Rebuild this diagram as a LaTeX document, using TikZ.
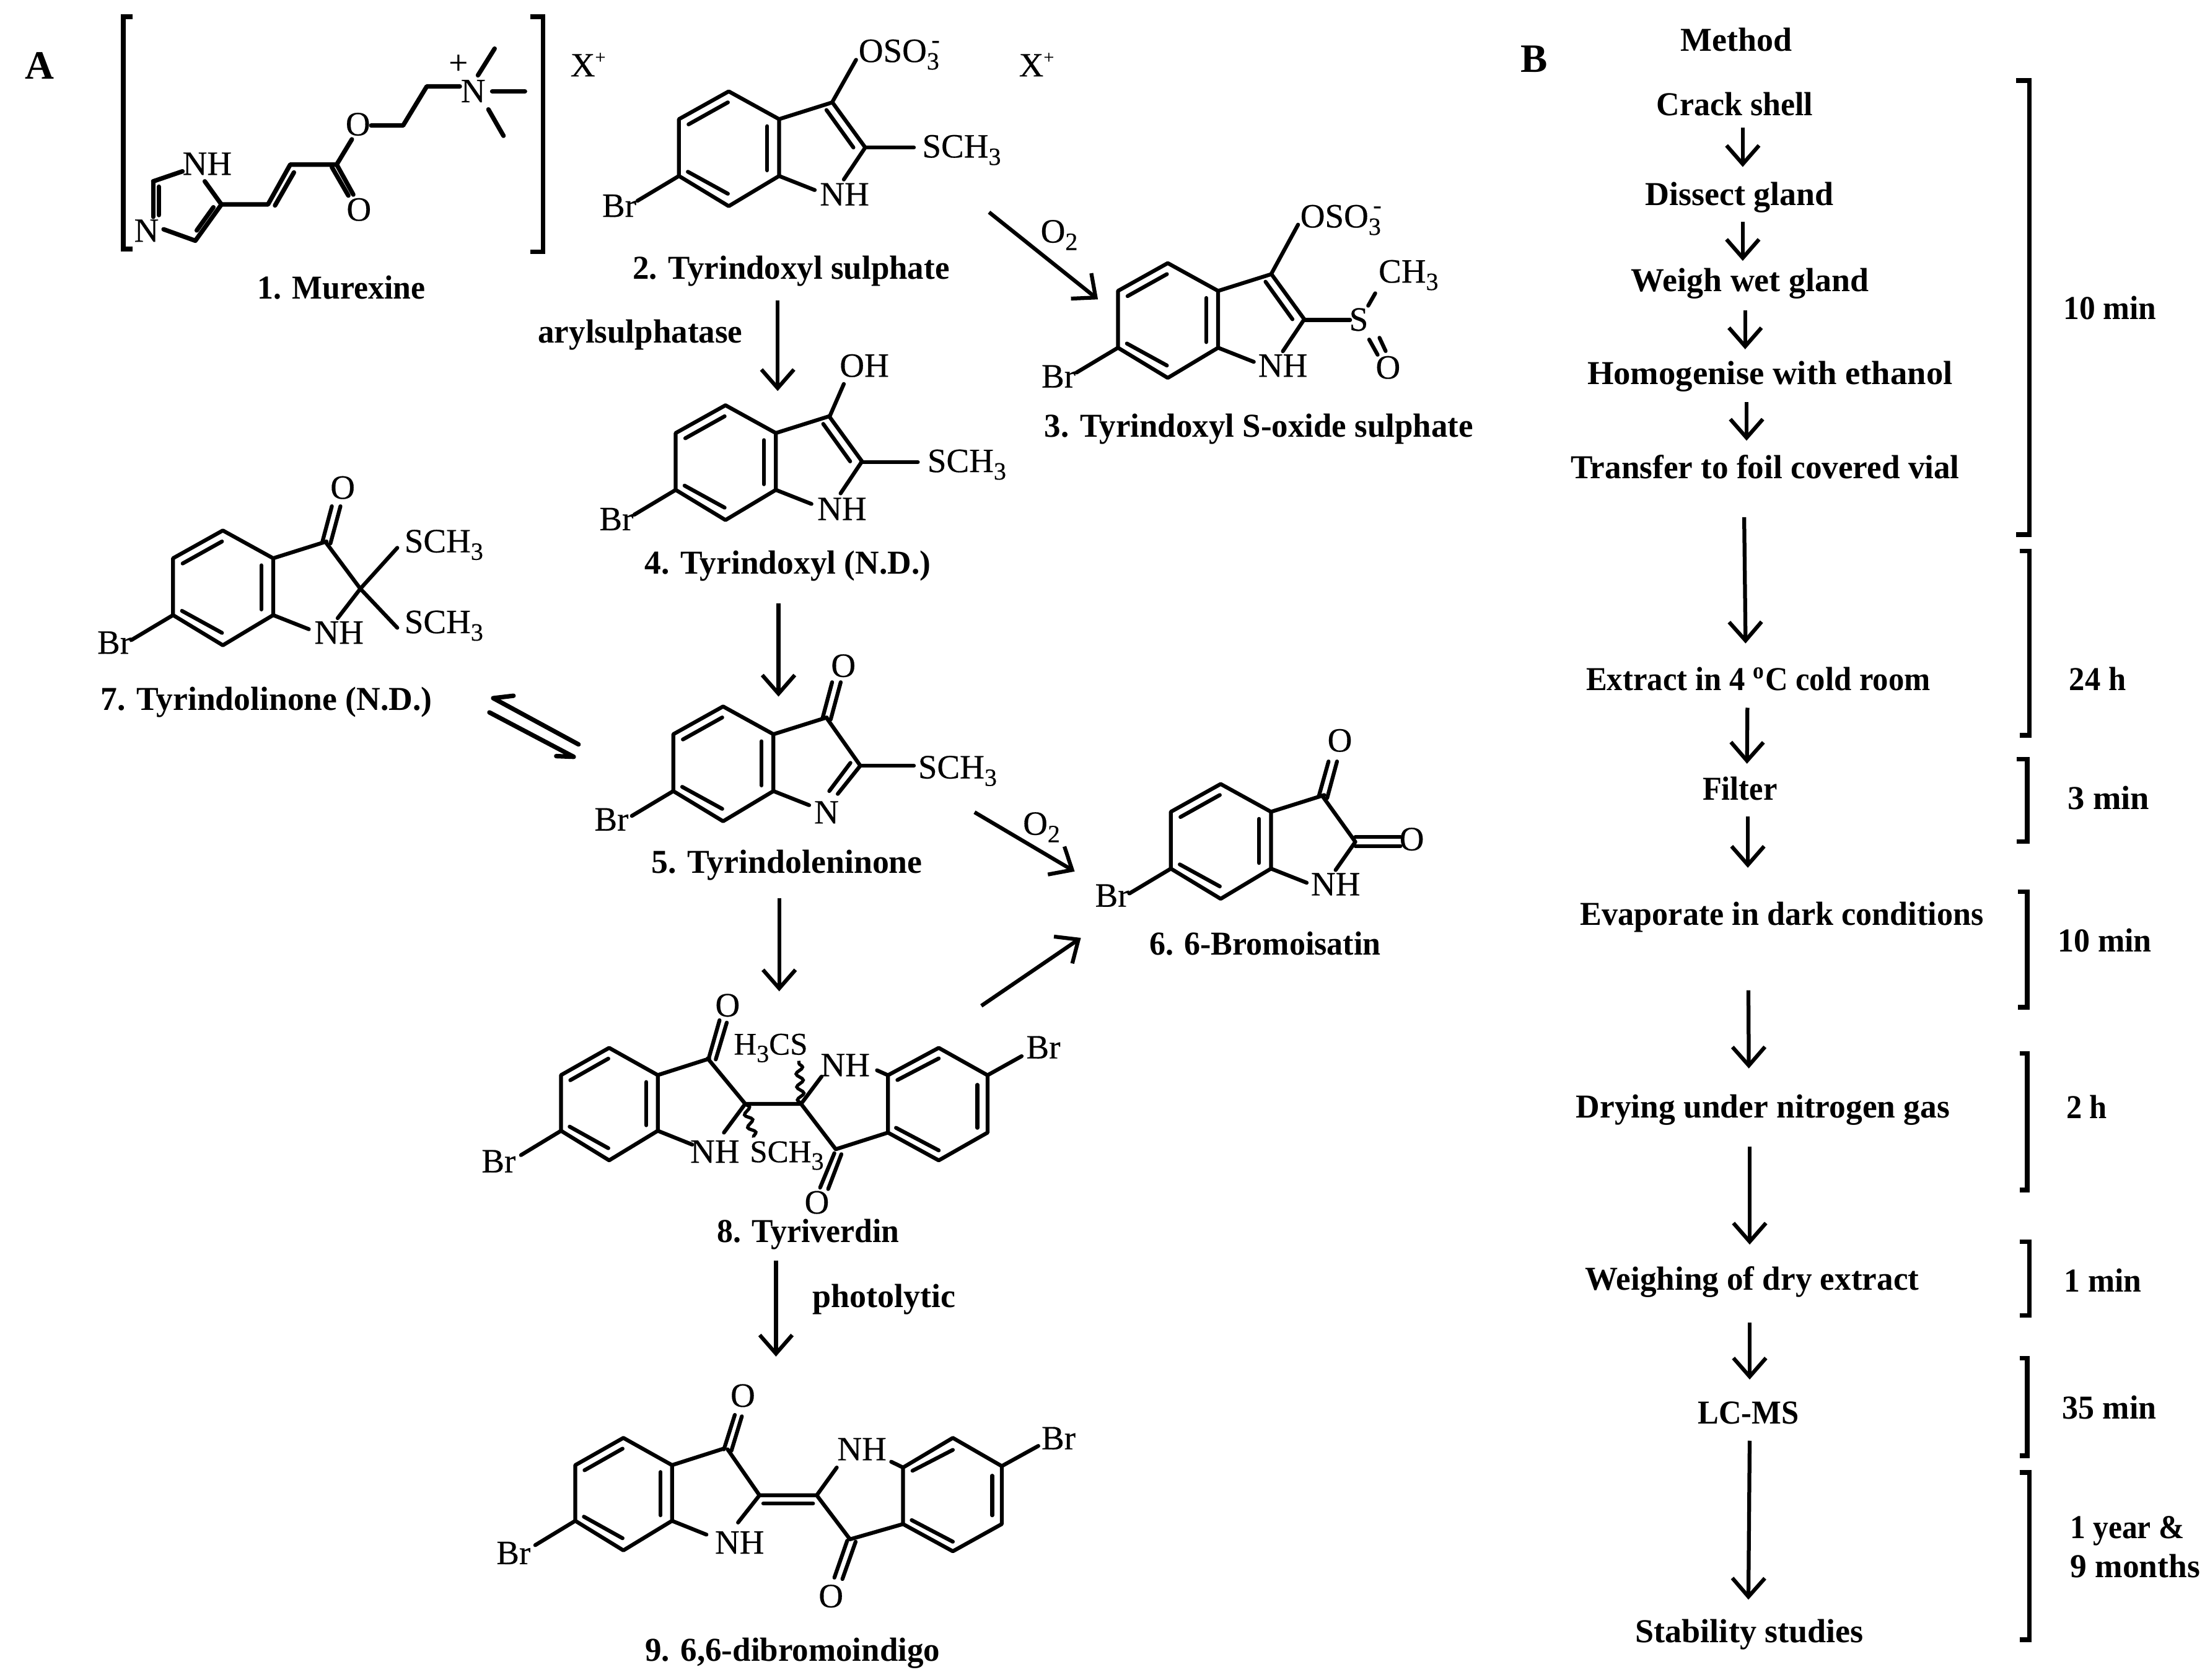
\documentclass[tikz,border=0pt]{standalone}
\usepackage{fontspec}
\usepackage{graphicx}
\setmainfont{Liberation Serif}
\newfontfamily\atomfam[FakeBold=0.35]{Liberation Serif}
\usetikzlibrary{arrows.meta,decorations.pathmorphing}
\newlength\ov \setlength\ov{0.45526pt}
\newcommand\lowsub[1]{\raisebox{-2.4pt}{\fontsize{8}{9}\selectfont #1}}
\newcommand\highsup[1]{\raisebox{4.6pt}{\fontsize{8}{9}\selectfont #1}}
\newcommand\tinysup[1]{\raisebox{4.2pt}{\fontsize{6}{7}\selectfont #1}}
\newcommand\atomfont{\atomfam\fontsize{11}{13}\selectfont}
\newcommand\smallatomfont{\atomfam\fontsize{10.2}{12}\selectfont}
\newcommand\labfont{\fontsize{10.8}{13}\selectfont\bfseries}
\tikzset{
  x=0.45526pt,y=-0.45526pt,
  bond/.style={line width=1.25pt,line cap=round,line join=round},
  thickbond/.style={line width=1.45pt,line cap=round,line join=round},
  wavy/.style={line width=1.05pt,decorate,decoration={snake,amplitude=1.1pt,segment length=4.2pt}},
  arw/.style={line width=1.25pt,-{Straight Barb[length=6pt,width=10.5pt,line width=1.25pt]}},
  brk/.style={line width=1.5pt,line join=miter},
  lab/.style={anchor=base,inner sep=0pt,outer sep=0pt,font=\labfont},
  atm/.style={anchor=base,inner sep=0pt,outer sep=0pt,font=\atomfont},
  atw/.style={anchor=base west,inner sep=0pt,outer sep=0pt,font=\atomfont},
}
% #1 name, #2 centre x, #3 baseline y, #4 width, #5 text
\newcommand\lab[5]{\node[lab] (#1) at (#2,#3) {\resizebox{#4\ov}{\height}{#5}};}
\newcommand\arr[3]{\coordinate (#1-s) at (#2); \coordinate (#1-e) at (#3); \draw[arw] (#1-s) -- (#1-e);}
\newcommand\rbrk[5]{\coordinate (#1-a) at (#4,#2); \coordinate (#1-b) at (#3,#2); \coordinate (#1-c) at (#3,#5); \coordinate (#1-d) at (#4,#5); \draw[brk] (#1-a) -- (#1-b) -- (#1-c) -- (#1-d);}
% benzo ring of an indole; T vertex at #2,#3, #1 scope options
\newcommand\core[3]{\begin{scope}[shift={(#2,#3)},#1]
  \draw[bond] (0,0) -- (35.7,19.7) -- (35.7,60) -- (0,81.4) -- (-35.3,60) -- (-35.3,19.7) -- cycle;
  \draw[bond] (-28.5,23.4) -- (-0.6,7.8);
  \draw[bond] (-29,57) -- (-0.6,72.6);
  \draw[bond] (27.3,24.7) -- (27.3,56);
  \draw[bond] (35.7,19.7) -- (73.5,7.8);
  \draw[bond] (35.7,60) -- (61,70);
  \draw[bond] (-35.3,60) -- (-64.7,77.6);
\end{scope}}
% C3=C2 with N bond
\newcommand\ctwo[2]{\begin{scope}[shift={(#1,#2)}]
  \draw[bond] (73.5,7.8) -- (96.8,39.8) -- (81.6,62.5);
  \draw[bond] (69.3,13.2) -- (88.4,39.8);
\end{scope}}
\begin{document}
\begin{tikzpicture}
\useasboundingbox (0,0) rectangle (1567,1191);
\fill[white] (0,0) rectangle (1567,1191);

% panel letters
\node[lab,font=\fontsize{13}{15}\selectfont\bfseries] (letA) at (28,56) {A};
\node[lab,font=\fontsize{13}{15}\selectfont\bfseries] (letB) at (1088,51) {B};

% ---------- 1 Murexine
\coordinate (bl-a) at (94.1,11.8); \coordinate (bl-b) at (87.4,11.8); \coordinate (bl-c) at (87.4,176.5); \coordinate (bl-d) at (94.1,176.5);
\draw[brk] (bl-a) -- (bl-b) -- (bl-c) -- (bl-d);
\rbrk{br}{11.8}{385}{375.9}{178.5}
\node[atm] (m1nh) at (146.9,124) {NH};
\node[atm] (m1n) at (103.9,171.5) {N};
\draw[thickbond] (108.6,128.6) -- (129.4,121.5);
\draw[thickbond] (108.6,128.6) -- (108.6,153.8);
\draw[thickbond] (112.6,132.4) -- (112.6,152.5);
\draw[thickbond] (116,162.6) -- (138.5,170.7) -- (157,145) -- (145.2,128.6);
\draw[thickbond] (139.5,163.4) -- (151.3,147);
\draw[thickbond] (157,145) -- (190,145) -- (205.8,116.7) -- (238.7,116.7);
\draw[thickbond] (195,145.7) -- (208.4,122.3);
\draw[thickbond] (238.7,116.7) -- (250.5,138);
\draw[thickbond] (235.3,118.5) -- (247,138.7);
\node[atm] (m1o2) at (254.5,156.5) {O};
\node[atm] (m1o1) at (253.8,96) {O};
\draw[thickbond] (238.7,116.7) -- (249.5,98.8);
\draw[thickbond] (263.2,89) -- (285.8,89) -- (302.6,61.3) -- (326,61.3);
\node[atm] (m1np) at (335.5,72.5) {N};
\node[atm] (m1plus) at (325,52.5) {+};
\draw[thickbond] (338.9,53.4) -- (350.7,34.5);
\draw[thickbond] (349,64.8) -- (372.2,64.8);
\draw[thickbond] (346.3,77.6) -- (357,96.3);
\node[atw] (x1) at (404.5,54.2) {X\tinysup{+}};
\node[atw] (x2) at (722.5,54.2) {X\tinysup{+}};
\lab{n1}{242}{212}{119}{1. Murexine}

% ---------- 2 Tyrindoxyl sulphate
\core{}{516.7}{64.8}
\ctwo{516.7}{64.8}
\draw[bond] (590,72.6) -- (607,42.4);
\draw[bond] (613.5,104.6) -- (648,104.6);
\node[atw] (m2oso) at (608.8,44) {OSO\lowsub{3}\hspace{-2.5pt}\highsup{-}};
\node[atw] (m2s) at (653.9,111.7) {SCH\lowsub{3}};
\node[atm] (m2nh) at (598.8,145.7) {NH};
\node[atw] (m2br) at (427,153.8) {Br};
\lab{n2}{561}{197.9}{224.5}{2. Tyrindoxyl sulphate}
\lab{aryl}{454}{243}{145}{arylsulphatase}
\arr{a24}{551.4,213}{551.4,277.3}
\arr{a23}{701.3,150.5}{778.5,212.3}
\node[atm] (o2a) at (751,172) {O\lowsub{2}};

% ---------- 3 S-oxide
\core{}{828}{186.6}
\ctwo{828}{186.6}
\draw[bond] (901.2,194.6) -- (920.4,159.3);
\draw[bond] (924.7,226.9) -- (957.3,226.9);
\draw[bond] (970.1,216.8) -- (975.1,208);
\draw[bond] (970.8,240.8) -- (976.8,251.6);
\draw[bond] (978.1,239.5) -- (982.5,249);
\node[atw] (m3oso) at (922,161.3) {OSO\lowsub{3}\hspace{-2.5pt}\highsup{-}};
\node[atm] (m3s) at (963.4,234.5) {S};
\node[atw] (m3c) at (977.5,200.4) {CH\lowsub{3}};
\node[atm] (m3o) at (984.2,268.5) {O};
\node[atm] (m3nh) at (909.6,267.2) {NH};
\node[atw] (m3br) at (738.5,274.8) {Br};
\lab{n3}{892.6}{310}{304}{3. Tyrindoxyl S-oxide sulphate}

% ---------- 4 Tyrindoxyl
\core{}{514.4}{287.4}
\ctwo{514.4}{287.4}
\draw[bond] (588.4,295) -- (598.3,272.3);
\draw[bond] (610.5,327.7) -- (650.8,327.7);
\node[atw] (m4oh) at (595.4,267.2) {OH};
\node[atw] (m4s) at (657.6,334.8) {SCH\lowsub{3}};
\node[atm] (m4nh) at (597,368.8) {NH};
\node[atw] (m4br) at (425,376) {Br};
\lab{n4}{558.5}{407}{203}{4. Tyrindoxyl (N.D.)}
\arr{a45}{552,428}{552,494}

% ---------- 7 Tyrindolinone
\core{}{158}{376.2}
\draw[bond] (228.6,384.2) -- (235.3,359);
\draw[bond] (234.3,385.4) -- (241.4,359);
\draw[bond] (231.3,385) -- (255.5,417.5) -- (239.4,438.4);
\draw[bond] (255.5,417.5) -- (281.7,388.5);
\draw[bond] (255.5,417.5) -- (281.7,445.2);
\node[atm] (m7o) at (243,353.7) {O};
\node[atw] (m7s1) at (286.8,391.7) {SCH\lowsub{3}};
\node[atw] (m7s2) at (286.8,449) {SCH\lowsub{3}};
\node[atm] (m7nh) at (240.4,456.5) {NH};
\node[atw] (m7br) at (69,463.6) {Br};
\lab{n7}{189}{503.5}{235}{7. Tyrindolinone (N.D.)}
\coordinate (eq1s) at (410.2,527.9); \coordinate (eq1e) at (349.7,495.1); \coordinate (eq1t) at (364.1,493.4);
\draw[thickbond] (eq1s) -- (eq1e) -- (eq1t);
\coordinate (eq2s) at (347,505.2); \coordinate (eq2e) at (406.8,536.7); \coordinate (eq2t) at (394.4,536.2);
\draw[thickbond] (eq2s) -- (eq2e) -- (eq2t);

% ---------- 5 Tyrindoleninone
\core{}{512.7}{501}
\draw[bond] (583.3,509) -- (590,483.8);
\draw[bond] (589,510.2) -- (596.1,483.8);
\draw[bond] (586,509) -- (610,543) -- (594,563);
\draw[bond] (603,541) -- (588,561);
\draw[bond] (610,543) -- (648,543);
\node[atm] (m5o) at (598,480) {O};
\node[atw] (m5s) at (651,552) {SCH\lowsub{3}};
\node[atm] (m5n) at (586,584) {N};
\node[atw] (m5br) at (421.5,589) {Br};
\lab{n5}{558}{619}{192}{5. Tyrindoleninone}
\arr{a58}{552.5,637}{552.5,703}
\arr{a56}{691,576}{762,618}
\node[atm] (o2b) at (738.5,592) {O\lowsub{2}};

% ---------- 6 6-Bromoisatin
\core{}{865.5}{556}
\draw[bond] (935,565) -- (942,540);
\draw[bond] (941,566) -- (948,540);
\draw[bond] (938,565) -- (961,597) -- (947,617);
\draw[bond] (961,593.5) -- (993,593.5);
\draw[bond] (961,600) -- (993,600);
\node[atm] (m6o1) at (950,533) {O};
\node[atm] (m6o2) at (1001,603) {O};
\node[atm] (m6nh) at (947,635) {NH};
\node[atw] (m6br) at (776.5,643) {Br};
\lab{n6}{897}{677}{164}{6. 6-Bromoisatin}
\arr{a86}{695.8,713.3}{766.4,665.1}

% ---------- 8 Tyriverdin
\core{xscale=.966,yscale=.98}{431.9}{743.1}
\draw[bond] (502.5,750.6) -- (510.2,723.5);
\draw[bond] (507.5,751.3) -- (515.3,725.2);
\draw[bond] (501.8,750.6) -- (528.4,782.8) -- (513.3,803.2);
\draw[bond] (528.4,782.8) -- (568,782.8) -- (582.5,763.5);
\draw[wavy] (528.4,782.8) -- (534.4,806.6);
\draw[wavy] (568,782.8) -- (566.4,752.3);
\draw[bond] (621.8,759) -- (629.6,762.5) -- (665.6,743.1) -- (700.2,762.5) -- (700.2,803.2) -- (665.6,822.9) -- (629.6,803.2) -- (629.6,762.5);
\draw[bond] (636.3,765.9) -- (665.6,750.6);
\draw[bond] (693,769.3) -- (693,799.8);
\draw[bond] (635.3,799.8) -- (665.6,815.8);
\draw[bond] (568,782.8) -- (592.6,815) -- (629.6,803.2);
\draw[bond] (591.6,817.8) -- (581.5,842.2);
\draw[bond] (596.6,818.5) -- (587.2,843.2);
\draw[bond] (700.2,762.5) -- (724.4,749);
\node[atm] (m8o1) at (515.9,720.8) {O};
\node[atm] (m8o2) at (579.2,860.6) {O};
\node[atw,font=\smallatomfont] (m8h3) at (520.3,747.9) {H\lowsub{3}CS};
\node[atm] (m8nh1) at (506.9,824.6) {NH};
\node[atw,font=\smallatomfont] (m8s) at (531.7,824.2) {SCH\lowsub{3}};
\node[atm] (m8nh2) at (599.3,763.2) {NH};
\node[atw] (m8br1) at (341.5,831.4) {Br};
\node[atw] (m8br2) at (727.7,750.6) {Br};
\lab{n8}{573}{881}{129}{8. Tyriverdin}
\lab{photo}{627}{927}{101.5}{photolytic}
\arr{a89}{550.2,893.8}{550.2,962}

% ---------- 9 dibromoindigo
\core{xscale=.966,yscale=.98}{442}{1019.7}
\draw[bond] (513.3,1027.8) -- (521,1003.4);
\draw[bond] (518.6,1028.8) -- (526,1004.4);
\draw[bond] (515.9,1027.8) -- (538.5,1060.4) -- (523.3,1079.7);
\draw[bond] (538.5,1060.4) -- (579.1,1060.4) -- (593.3,1040.7);
\draw[bond] (541.2,1066.2) -- (576.5,1066.2);
\draw[bond] (579.1,1060.4) -- (602.7,1091.6) -- (640.3,1080.8);
\draw[bond] (631.9,1036.6) -- (640.3,1040.7) -- (675.6,1019.7) -- (710.3,1039.7) -- (710.3,1080.8) -- (675.6,1100.1) -- (640.3,1080.8) -- (640.3,1040.7);
\draw[bond] (647,1043) -- (675.6,1028.2);
\draw[bond] (703.5,1046.5) -- (703.5,1074.6);
\draw[bond] (646.4,1078) -- (675.6,1093.3);
\draw[bond] (600.7,1092.6) -- (591.6,1118.8);
\draw[bond] (606.7,1093.3) -- (597.3,1119.8);
\draw[bond] (710.3,1039.7) -- (736.2,1025.4);
\node[atm] (m9o1) at (526.7,997.6) {O};
\node[atm] (m9o2) at (589.2,1139.8) {O};
\node[atm] (m9nh1) at (524.4,1101.8) {NH};
\node[atm] (m9nh2) at (611.1,1035.6) {NH};
\node[atw] (m9br1) at (352,1109.2) {Br};
\node[atw] (m9br2) at (738.5,1027.8) {Br};
\lab{n9}{562}{1178}{209}{9. 6,6-dibromoindigo}

% ---------- Panel B
\lab{method}{1231}{36.4}{79}{Method}
\lab{crack}{1230}{81.9}{111}{Crack shell}
\lab{dissect}{1233.3}{145.7}{133.7}{Dissect gland}
\lab{weigh}{1240.8}{206.9}{168.4}{Weigh wet gland}
\lab{homog}{1255}{272.4}{259}{Homogenise with ethanol}
\lab{transfer}{1251.6}{339.4}{275.6}{Transfer to foil covered vial}
\lab{extract}{1246.7}{489.8}{244}{Extract in 4 \textsuperscript{o}C cold room}
\lab{filter}{1233.7}{567.4}{53}{Filter}
\lab{evap}{1263.5}{656}{285.7}{Evaporate in dark conditions}
\lab{dry}{1250}{792.5}{265}{Drying under nitrogen gas}
\lab{wdry}{1242.3}{915}{236.7}{Weighing of dry extract}
\lab{lcms}{1239.8}{1009.9}{71.6}{LC-MS}
\lab{stab}{1240.5}{1164.8}{161.8}{Stability studies}

\arr{b1}{1235.7,90.3}{1235.7,118.4}
\arr{b2}{1235.7,157.3}{1235.7,185}
\arr{b3}{1237.4,220.3}{1237.4,247.7}
\arr{b4}{1238.4,285.2}{1238.4,312.5}
\arr{b5}{1236.7,366.8}{1237.7,456.3}
\arr{b6}{1239,501.9}{1238.7,541.6}
\arr{b7}{1239.3,579}{1239.3,615.4}
\arr{b8}{1239.7,702.3}{1240,757.7}
\arr{b9}{1240.6,813}{1240.6,882.6}
\arr{b10}{1240.6,938}{1240.6,978.3}
\arr{b11}{1240.6,1021.7}{1239.7,1134.4}

\rbrk{t1}{57.2}{1439}{1429.6}{379.1}
\rbrk{t2}{390.8}{1439}{1431.9}{521.5}
\rbrk{t3}{538.3}{1437.4}{1430}{596.8}
\rbrk{t4}{632.4}{1437.4}{1430.9}{714.2}
\rbrk{t5}{747}{1437.4}{1431.9}{843.9}
\rbrk{t6}{880.6}{1439}{1431.9}{932.8}
\rbrk{t7}{963.2}{1437.4}{1431.9}{1032.4}
\rbrk{t8}{1044.3}{1439}{1431.9}{1162.9}

\lab{tm1}{1496}{226.5}{66}{10 min}
\lab{tm2}{1487.3}{489.8}{40.2}{24 h}
\lab{tm3}{1495}{574}{58}{3 min}
\lab{tm4}{1492.3}{675}{66.7}{10 min}
\lab{tm5}{1479.6}{793.3}{29}{2 h}
\lab{tm6}{1491}{916.2}{55}{1 min}
\lab{tm7}{1495.6}{1006}{66.7}{35 min}
\lab{tm8}{1508.3}{1090.9}{81}{1 year \&}
\lab{tm9}{1513.9}{1118.6}{92}{9 months}
\end{tikzpicture}
\end{document}
